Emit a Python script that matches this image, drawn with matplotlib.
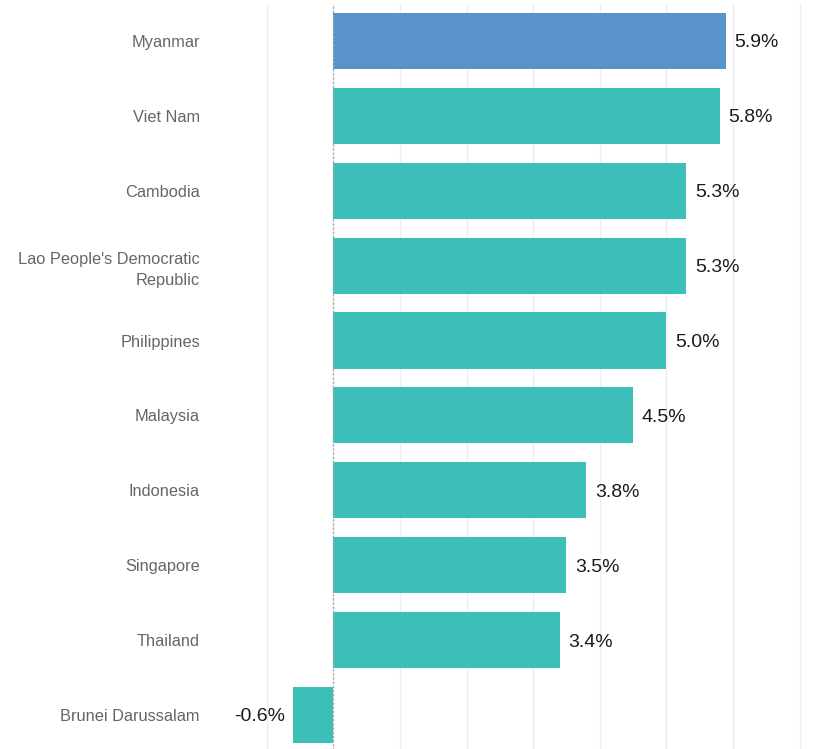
import matplotlib
matplotlib.use("Agg")
import matplotlib.pyplot as plt

countries = ["Myanmar", "Viet Nam", "Cambodia", "Lao People's Democratic\nRepublic",
             "Philippines", "Malaysia", "Indonesia", "Singapore", "Thailand",
             "Brunei Darussalam"]
growth = [5.9, 5.8, 5.3, 5.3, 5.0, 4.5, 3.8, 3.5, 3.4, -0.6]
highlight = "Myanmar"

plt.rcParams["font.family"] = ["Liberation Sans", "DejaVu Sans"]

fig = plt.figure(figsize=(8.17, 7.49), dpi=100)
ax = fig.add_axes([200 / 817, -3.4 / 749, 613 / 817, 748.9 / 749])

ypos = list(range(len(countries)))
colors = ["#5A93CA" if c == highlight else "#3CBFB8" for c in countries]
ax.barh(ypos, growth, height=0.75, color=colors, zorder=2)

ax.set_ylim(len(countries) - 0.5, -0.5)
ax.set_xlim(-2.0, 7.2)
ax.set_xticks(range(-1, 8))
ax.xaxis.grid(True, color="#eeeeee", lw=1, zorder=0)
ax.tick_params(axis="x", length=0, labelbottom=False)
ax.axvline(0, color="#aaaaaa", lw=1, ls=(0, (1.5, 1.5)), zorder=3)

ax.set_yticks(ypos)
ax.set_yticklabels(countries, fontsize=11.8, color="#666666", ha="right",
                   linespacing=1.45)
ax.tick_params(axis="y", length=0, pad=0)
for lab in ax.get_yticklabels():
    lab.set_multialignment("right")

for s in ax.spines.values():
    s.set_visible(False)

# value labels just past the end of each bar
for y, v in zip(ypos, growth):
    dx, ha = (6, "left") if v >= 0 else (-6, "right")
    ax.annotate(f"{v:.1f}%", (v, y), xytext=(dx, 0), textcoords="offset points",
                ha=ha, va="center_baseline", fontsize=14, color="#1a1a1a")

fig.savefig("out.png", dpi=100)
